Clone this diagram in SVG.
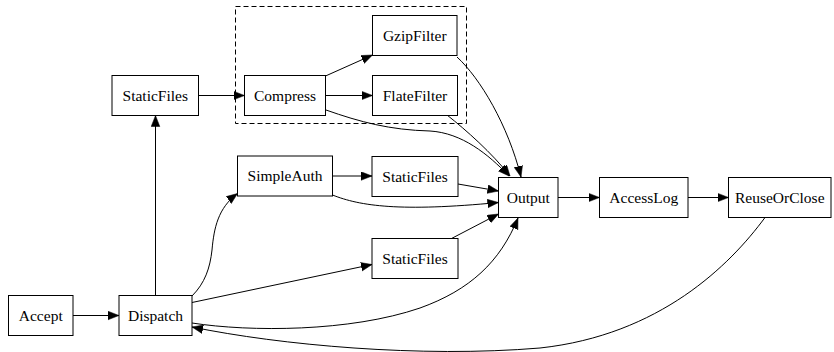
<svg xmlns="http://www.w3.org/2000/svg" width="834" height="352" viewBox="0 0 834 352">
<defs>
<marker id="ah" markerUnits="userSpaceOnUse" markerWidth="12" markerHeight="10" refX="11" refY="4.5" orient="auto">
<path d="M0,0.2 L11,4.5 L0,8.8 z" fill="#000" stroke="#000" stroke-width="0.5"/>
</marker>
<style>
.n rect{fill:#fff;stroke:#000;stroke-width:1}
.n text{font-family:"Liberation Serif","Times New Roman",serif;font-size:15.5px;text-anchor:middle;fill:#000}
#edges path{fill:none;stroke:#000;stroke-width:1;marker-end:url(#ah)}
.cl{fill:none;stroke:#000;stroke-width:1;stroke-dasharray:5,3}
</style>
</defs>
<rect width="834" height="352" fill="#fff"/>
<rect class="cl" x="235.5" y="6.5" width="231" height="117"/>
<g id="edges">
<path d="M73,315.5 L119,315.5"/>
<path d="M155.5,295.5 L155.5,115.5"/>
<path d="M198.5,95.5 L244.5,95.5"/>
<path d="M325.5,95.5 L372.5,95.5"/>
<path d="M325.5,76 L372.5,55"/>
<path d="M326,110 C360,122 390,130 430,131 C462,133 488,154 509,176"/>
<path d="M447,115 C466,130 492,153 510,176"/>
<path d="M457,57 C480,78 508,125 521,177"/>
<path d="M192,296 C205,283 210,268 212,250 C214,228 218,208 237.5,193.5"/>
<path d="M332.5,176 L372,176"/>
<path d="M332.5,195 C360,206 400,212 498.5,202.5"/>
<path d="M458,184 L498.5,191"/>
<path d="M451.5,238.5 L498.5,214"/>
<path d="M192,302.5 L372,264.5"/>
<path d="M192,323 C250,332 350,332 420,308 C470,290 500,262 518,218"/>
<path d="M558,197.5 L599.5,197.5"/>
<path d="M688,197.5 L728.5,197.5"/>
<path d="M765,217.5 C730,265 660,335 540,348 C420,358 280,345 192,327"/>
</g>
<g id="accept" class="n"><rect x="8.5" y="295.5" width="64.5" height="40"/><text x="40.75" y="320.5">Accept</text></g>
<g id="dispatch" class="n"><rect x="119" y="295.5" width="73" height="40"/><text x="155.5" y="320.5">Dispatch</text></g>
<g id="staticfiles1" class="n"><rect x="112" y="75.5" width="86.5" height="40"/><text x="155.25" y="100.5">StaticFiles</text></g>
<g id="compress" class="n"><rect x="244.5" y="75.5" width="81" height="40"/><text x="285" y="100.5">Compress</text></g>
<g id="gzipfilter" class="n"><rect x="372.5" y="15.5" width="84.5" height="40"/><text x="414.75" y="40.5">GzipFilter</text></g>
<g id="flatefilter" class="n"><rect x="372.5" y="75.5" width="85" height="40"/><text x="415" y="100.5">FlateFilter</text></g>
<g id="simpleauth" class="n"><rect x="237.5" y="156" width="95" height="40"/><text x="285" y="181">SimpleAuth</text></g>
<g id="staticfiles2" class="n"><rect x="372" y="156.5" width="86" height="40"/><text x="415" y="181.5">StaticFiles</text></g>
<g id="staticfiles3" class="n"><rect x="372" y="238.5" width="86" height="40"/><text x="415" y="263.5">StaticFiles</text></g>
<g id="output" class="n"><rect x="498.5" y="177.5" width="59.5" height="40"/><text x="528.25" y="202.5">Output</text></g>
<g id="accesslog" class="n"><rect x="599.5" y="177.5" width="88.5" height="40"/><text x="643.75" y="202.5">AccessLog</text></g>
<g id="reuseorclose" class="n"><rect x="728.5" y="177.5" width="102.5" height="40"/><text x="779.75" y="202.5">ReuseOrClose</text></g>
</svg>
